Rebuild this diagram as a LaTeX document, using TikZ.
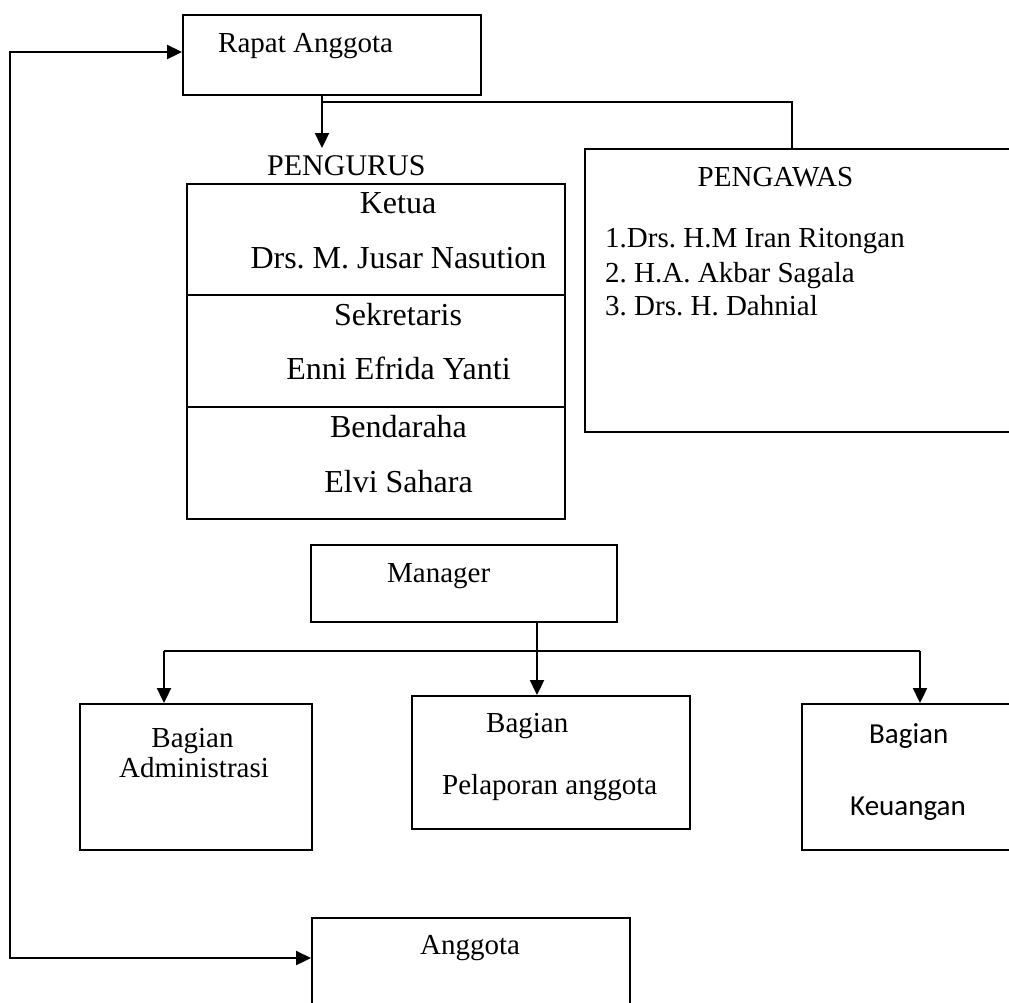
\documentclass[tikz,border=0pt]{standalone}
\usepackage{fontspec}
\setmainfont{Liberation Serif}
\newfontfamily\calibfont{Carlito}
\usetikzlibrary{arrows.meta,calc}
\frenchspacing
\begin{document}
\begin{tikzpicture}[x=1pt,y=-1pt,
  box/.style={draw,line width=1.8pt,rectangle,inner sep=0pt,anchor=north west},
  conn/.style={line width=2.3pt},
  thin/.style={line width=1.8pt},
  tip/.style={-{Triangle[length=15pt,width=14pt]}},
  txt/.style={inner sep=0pt,font=\fontsize{29}{34}\selectfont},
  big/.style={inner sep=0pt,anchor=base,font=\fontsize{32}{38}\selectfont},
  kal/.style={inner sep=0pt,font=\calibfont\fontsize{29}{34}\selectfont}]
\useasboundingbox (0,0) rectangle (1009,1002);
\clip (0,0) rectangle (1009,1002);
\fill[white] (0,0) rectangle (1009,1002);

% boxes
\node[box,minimum width=298pt,minimum height=80pt] (rapat) at (182,14) {};
\node[box,line width=2.2pt,minimum width=378pt,minimum height=335pt] (pengurus) at (186,183) {};
\node[box,minimum width=440pt,minimum height=283pt] (pengawas) at (584,148) {};
\node[box,minimum width=306pt,minimum height=77pt] (manager) at (310,544) {};
\node[box,minimum width=232pt,minimum height=146pt] (admin) at (79,703) {};
\node[box,minimum width=278pt,minimum height=133pt] (pelaporan) at (411,695) {};
\node[box,minimum width=230pt,minimum height=146pt] (keu) at (801,703) {};
\node[box,minimum width=318pt,minimum height=100pt] (anggota) at (311,917) {};

% texts
\node[txt,anchor=base west] (rapatT) at (218,52) {Rapat Anggota};
\node[txt,anchor=base west,font=\fontsize{30}{36}\selectfont] (pengT) at (267,175) {PENGURUS};
\node[big] (ketua) at (398,213) {Ketua};
\node[big] (ketuaN) at (398.5,268) {Drs. M. Jusar Nasution};
\node[big] (sek) at (398,325) {Sekretaris};
\node[big] (sekN) at (398.5,379) {Enni Efrida Yanti};
\node[big] (bend) at (398.5,437) {Bendaraha};
\node[big] (bendN) at (398.5,492) {Elvi Sahara};
\node[txt,anchor=base] (pwT) at (775.5,186) {PENGAWAS};
\node[txt,anchor=base west] (pw1) at (605,247) {1.Drs. H.M Iran Ritongan};
\node[txt,anchor=base west] (pw2) at (605,282) {2. H.A. Akbar Sagala};
\node[txt,anchor=base west] (pw3) at (605,315) {3. Drs. H. Dahnial};
\node[txt,anchor=base west] (manT) at (387,582) {Manager};
\node[txt,anchor=base] (adm1) at (192.5,747) {Bagian};
\node[txt,anchor=base] (adm2) at (194,777) {Administrasi};
\node[txt,anchor=base west] (pel1) at (486,732) {Bagian};
\node[txt,anchor=base west] (pel2) at (442,794) {Pelaporan anggota};
\node[kal,anchor=base west] (keu1) at (869,743) {Bagian};
\node[kal,anchor=base west] (keu2) at (850,815) {Keuangan};
\node[txt,anchor=base west] (angT) at (420,954) {Anggota};

% dividers in pengurus box
\draw[line width=2.2pt] (pengurus.west |- 0,295) -- (pengurus.east |- 0,295);
\draw[line width=2.2pt] (pengurus.west |- 0,407) -- (pengurus.east |- 0,407);

% connectors
\coordinate (lt) at (10,52);
\coordinate (lb) at (10,958);
\draw[conn,{Triangle[length=15pt,width=14pt]}-{Triangle[length=15pt,width=14pt]}]
  (rapat.west |- lt) -- (lt) -- (lb) -- (anggota.west |- lb);

\coordinate (rs) at ($(rapat.south west)+(140,0)$);
\coordinate (pengtop) at (322,148);
\draw[conn,tip] (rs) -- (pengtop);
\coordinate (bj) at (322,102);
\coordinate (pwin) at ($(pengawas.north west)+(208,0)$);
\draw[thin] (bj) -| (pwin);

\coordinate (mo) at ($(manager.south west)+(227,0)$);
\draw[conn,tip] (mo) -- (mo |- pelaporan.north);
\coordinate (hl) at (164,651);
\coordinate (hr) at (920,651);
\draw[conn] (hl) -- (hr);
\draw[conn,tip] (hl) -- (hl |- admin.north);
\draw[conn,tip] (hr) -- (hr |- keu.north);
\end{tikzpicture}
\end{document}
